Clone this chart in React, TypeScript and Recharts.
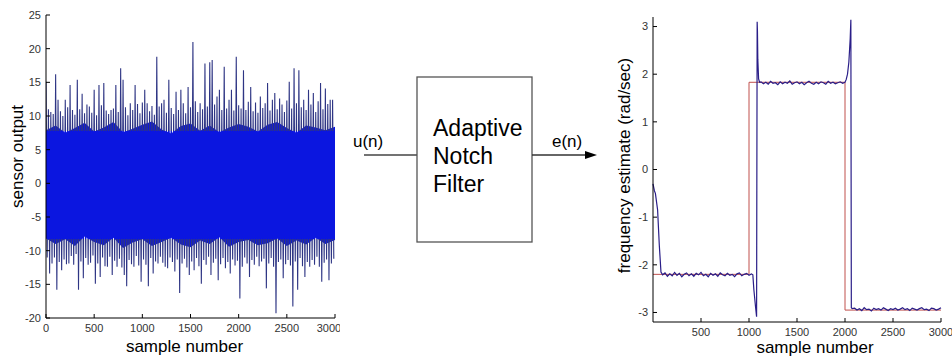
import { Area, ComposedChart, Line, LineChart, XAxis, YAxis } from "recharts";

// ---- left panel: raw sensor output ----
const sampleTicks = [0, 500, 1000, 1500, 2000, 2500, 3000];
const sensorTicks = [-20, -15, -10, -5, 0, 5, 10, 15, 20, 25];
const sensorDomain = [-20, 25];

// peak readings every 25 samples (upper swing, then lower swing half a step later)
const SPIKE_STEP = 25;
const spikeHigh = [
  15.1, 11.0, 10.6, 10.3, 16.2, 12.4, 10.7, 10.0, 12.4, 11.3,
  14.6, 10.9, 10.2, 15.4, 11.0, 13.3, 10.4, 11.7, 11.4, 10.5,
  13.9, 10.1, 14.6, 11.6, 14.9, 10.8, 10.3, 10.9, 11.1, 14.6,
  10.6, 17.1, 15.4, 11.3, 10.1, 11.9, 10.9, 14.6, 11.8, 10.4,
  12.0, 13.9, 11.9, 10.7, 11.5, 10.2, 18.8, 11.4, 11.9, 12.4,
  10.5, 15.4, 11.2, 10.3, 13.6, 10.9, 13.9, 11.9, 10.4, 14.3,
  11.3, 21.0, 12.2, 10.6, 11.9, 11.0, 17.8, 11.4, 18.0, 18.3,
  11.7, 12.9, 13.9, 10.9, 17.3, 11.1, 12.4, 13.9, 10.8, 18.8,
  11.6, 11.1, 16.8, 10.9, 12.1, 14.3, 10.7, 12.0, 10.5, 12.9,
  11.2, 11.9, 14.9, 10.8, 12.4, 13.4, 11.0, 12.6, 11.7, 10.6,
  12.3, 15.1, 11.1, 17.1, 11.9, 16.8, 11.3, 12.4, 10.9, 13.9,
  11.7, 13.4, 10.6, 12.2, 14.9, 11.0, 14.1, 11.8, 12.4, 12.4,
];
const spikeLow = [
  -11.0, -13.4, -11.9, -11.0, -15.8, -11.7, -12.9, -11.3, -12.0, -11.9,
  -10.8, -12.1, -10.5, -15.8, -11.6, -14.1, -11.1, -12.1, -11.8, -10.7,
  -14.9, -11.9, -13.9, -11.0, -12.3, -12.4, -10.9, -13.6, -11.5, -12.4,
  -11.2, -12.5, -13.6, -15.3, -11.4, -12.0, -12.4, -10.8, -12.2, -14.6,
  -11.3, -12.1, -15.3, -11.1, -13.4, -11.6, -11.9, -10.9, -11.8, -12.4,
  -12.6, -11.0, -11.7, -13.1, -11.3, -16.3, -11.9, -11.2, -12.5, -13.6,
  -11.6, -12.9, -11.1, -12.3, -14.9, -11.4, -12.1, -10.9, -13.6, -11.8,
  -11.2, -14.4, -12.0, -11.1, -12.6, -11.7, -13.4, -11.3, -12.2, -11.5,
  -17.1, -12.4, -11.0, -11.9, -13.9, -11.4, -12.1, -10.9, -12.3, -11.6,
  -11.2, -15.6, -11.9, -11.1, -12.4, -19.3, -11.7, -11.3, -14.1, -12.0,
  -11.4, -12.2, -18.3, -11.6, -15.8, -11.1, -12.3, -13.9, -11.7, -12.4,
  -11.4, -12.1, -10.9, -12.4, -14.6, -11.8, -11.3, -14.4, -11.9, -11.2,
];

// edges of the solid core of the trace, every 100 samples
const BAND_STEP = 100;
const bandHigh = [
  7.9, 8.6, 7.5, 8.2, 9.0, 7.7, 8.3, 9.1, 7.6, 8.1, 8.7, 9.2, 8.0, 7.4, 8.5, 8.9,
  7.8, 8.6, 7.6, 8.3, 8.8, 8.4, 7.7, 8.7, 9.1, 8.2, 7.5, 8.6, 8.3, 7.9, 8.4,
];
const bandLow = [
  -8.2, -9.0, -8.3, -9.3, -7.9, -8.7, -9.2, -8.1, -9.6, -8.8, -8.3, -9.3, -8.7, -8.1, -9.1, -9.5,
  -8.5, -9.0, -8.0, -9.4, -8.7, -8.4, -9.2, -8.9, -8.2, -9.3, -8.5, -9.1, -8.1, -9.0, -8.4,
];
// level inside which the overlapping trace reads as solid blue
const solidTop = 7.8;
const solidBottom = -8.2;

// ---- right panel: frequency tracking ----
const freqSampleTicks = [500, 1000, 1500, 2000, 2500, 3000];
const freqTicks = [-3, -2, -1, 0, 1, 2, 3];

const trueSamples = [0, 1000, 1000, 2000, 2000, 3000];
const trueFreq = [-2.2, -2.2, 1.83, 1.83, -2.95, -2.95];

const HOLD_STEP = 25;
const estStartup: [number, number][] = [
  [0, -0.3], [15, -0.45], [25, -0.5], [48, -0.85], [66, -1.6], [83, -2.15], [100, -2.21],
];
const holdOneStart = 125;
const holdOne = [
  -2.17, -2.24, -2.19, -2.23, -2.16, -2.22, -2.18, -2.25, -2.2, -2.17,
  -2.23, -2.19, -2.24, -2.18, -2.21, -2.16, -2.23, -2.2, -2.25, -2.18,
  -2.22, -2.19, -2.24, -2.17, -2.21, -2.23, -2.18, -2.22, -2.2, -2.25,
  -2.19, -2.17, -2.23, -2.2, -2.18, -2.22, -2.19,
];
const estStepUp: [number, number][] = [
  [1040, -2.21], [1051, -2.53], [1068, -2.88], [1079, -3.09], [1085, 3.1],
  [1088, 2.9], [1092, 2.3], [1100, 1.9], [1110, 1.83],
];
const holdTwoStart = 1125;
const holdTwo = [
  1.84, 1.8, 1.83, 1.79, 1.85, 1.81, 1.82, 1.78, 1.84, 1.8,
  1.83, 1.81, 1.86, 1.79, 1.82, 1.84, 1.8, 1.83, 1.78, 1.82,
  1.85, 1.81, 1.79, 1.83, 1.8, 1.84, 1.82, 1.79, 1.85, 1.81,
  1.83, 1.8, 1.82, 1.84, 1.81, 1.83,
];
const estStepDown: [number, number][] = [
  [2013, 1.89], [2026, 2.0], [2040, 2.25], [2054, 2.74], [2061, 3.14], [2066, -2.9], [2075, -2.92],
];
const holdThreeStart = 2100;
const holdThree = [
  -2.91, -2.95, -2.92, -2.96, -2.9, -2.94, -2.93, -2.97, -2.91, -2.94,
  -2.92, -2.95, -2.9, -2.93, -2.96, -2.92, -2.94, -2.91, -2.95, -2.93,
  -2.9, -2.94, -2.92, -2.96, -2.91, -2.93, -2.95, -2.92, -2.9, -2.94,
  -2.93, -2.96, -2.91, -2.92, -2.95, -2.93, -2.9,
];

const spikeTrace = spikeHigh.flatMap((hi, i) => [
  { x: i * SPIKE_STEP, y: hi },
  { x: i * SPIKE_STEP + SPIKE_STEP / 2, y: spikeLow[i] },
]);
const bandTrace = bandHigh.map((hi, i) => ({ x: i * BAND_STEP, band: [bandLow[i], hi] }));

const toPoints = (pairs: [number, number][]) => pairs.map(([x, y]) => ({ x, y }));
const holdPoints = (start: number, vals: number[]) =>
  vals.map((y, i) => ({ x: start + i * HOLD_STEP, y }));

const trueTrace = trueSamples.map((x, i) => ({ x, y: trueFreq[i] }));
const estimateTrace = [
  ...toPoints(estStartup),
  ...holdPoints(holdOneStart, holdOne),
  ...toPoints(estStepUp),
  ...holdPoints(holdTwoStart, holdTwo),
  ...toPoints(estStepDown),
  ...holdPoints(holdThreeStart, holdThree),
];

// gradient stops for the spike trace, in the trace's own bounding box
const spikeMax = Math.max(...spikeHigh);
const spikeMin = Math.min(...spikeLow);
const stopAt = (v: number) => (spikeMax - v) / (spikeMax - spikeMin);

const NAVY = "#2e3584";
const BLUE = "#0b16e0";

const tickStyle = { fill: "#333", fontSize: 11 };
const titleStyle = { textAnchor: "middle" as const, fontSize: 17, fill: "#000" };

function BlockDiagram() {
  return (
    <svg width={260} height={360} style={{ position: "absolute", left: 340, top: 0 }}>
      <g transform="translate(-340,0)">
        <line x1={364} y1={155} x2={417} y2={155} stroke="#444" strokeWidth={1.3} />
        <rect x={417} y={77} width={115} height={165} fill="none" stroke="#555" strokeWidth={1.3} />
        <line x1={532} y1={155} x2={587} y2={155} stroke="#333" strokeWidth={1.3} />
        <polygon points="585,151 597,155 585,159" fill="#000" />
        <text x={353} y={147} fontSize={17}>u(n)</text>
        <text x={552} y={147} fontSize={17}>e(n)</text>
        <text x={433} y={136} fontSize={23}>Adaptive</text>
        <text x={433} y={164} fontSize={23}>Notch</text>
        <text x={433} y={192} fontSize={23}>Filter</text>
      </g>
    </svg>
  );
}

export default function App() {
  return (
    <div
      style={{
        position: "absolute",
        left: 0,
        top: 0,
        width: 952,
        height: 360,
        background: "#fff",
        fontFamily: "Arial, 'Liberation Sans', sans-serif",
      }}
    >
      <div style={{ position: "absolute", left: 0, top: 0 }}>
        <ComposedChart width={340} height={360} margin={{ top: 15, right: 5, bottom: 0, left: 0 }}>
          <defs>
            <linearGradient id="spikeFill" x1="0" y1="0" x2="0" y2="1">
              <stop offset={0} stopColor={NAVY} />
              <stop offset={stopAt(solidTop)} stopColor={NAVY} />
              <stop offset={stopAt(solidTop)} stopColor={BLUE} />
              <stop offset={stopAt(solidBottom)} stopColor={BLUE} />
              <stop offset={stopAt(solidBottom)} stopColor={NAVY} />
              <stop offset={1} stopColor={NAVY} />
            </linearGradient>
          </defs>
          <XAxis
            xAxisId="b"
            type="number"
            dataKey="x"
            domain={[0, 3000]}
            ticks={sampleTicks}
            allowDataOverflow
            height={42}
            tickSize={-4}
            tickMargin={10}
            stroke="#000"
            tick={tickStyle}
            label={{ value: "sample number", position: "insideBottom", offset: 8, dx: -6, style: titleStyle }}
          />
          <XAxis
            xAxisId="t"
            orientation="top"
            type="number"
            domain={[0, 3000]}
            ticks={sampleTicks}
            height={0}
            tickSize={-4}
            stroke="#000"
            tickFormatter={() => ""}
          />
          <YAxis
            yAxisId="l"
            type="number"
            domain={sensorDomain}
            ticks={sensorTicks}
            allowDataOverflow
            width={46}
            tickSize={-4}
            tickMargin={9}
            stroke="#000"
            tick={tickStyle}
            label={{ value: "sensor output", angle: -90, position: "insideLeft", offset: 17, dy: -10, style: titleStyle }}
          />
          <YAxis
            yAxisId="r"
            orientation="right"
            type="number"
            domain={sensorDomain}
            ticks={sensorTicks}
            width={0}
            tickSize={-4}
            stroke="#000"
            tickFormatter={() => ""}
          />
          <Area
            xAxisId="b"
            yAxisId="l"
            data={bandTrace}
            dataKey="band"
            type="linear"
            stroke="none"
            fill={BLUE}
            fillOpacity={1}
            isAnimationActive={false}
          />
          <Line
            xAxisId="b"
            yAxisId="l"
            data={spikeTrace}
            dataKey="y"
            type="linear"
            stroke="url(#spikeFill)"
            strokeWidth={1.1}
            dot={false}
            isAnimationActive={false}
          />
        </ComposedChart>
      </div>

      <BlockDiagram />

      <div style={{ position: "absolute", left: 590, top: 0 }}>
        <LineChart width={362} height={360} margin={{ top: 17, right: 11, bottom: 0, left: 0 }}>
          <XAxis
            type="number"
            dataKey="x"
            domain={[0, 3000]}
            ticks={freqSampleTicks}
            height={38}
            tickSize={-4}
            tickMargin={10}
            stroke="#000"
            tick={tickStyle}
            label={{ value: "sample number", position: "insideBottom", offset: 7, dx: 18, style: titleStyle }}
          />
          <YAxis
            type="number"
            domain={[-3.2, 3.2]}
            ticks={freqTicks}
            allowDataOverflow
            width={63}
            tickSize={-4}
            tickMargin={9}
            stroke="#000"
            tick={tickStyle}
            label={{
              value: "frequency estimate (rad/sec)",
              angle: -90,
              position: "insideLeft",
              offset: 34,
              dy: -4,
              style: titleStyle,
            }}
          />
          <Line
            data={trueTrace}
            dataKey="y"
            type="linear"
            stroke="#c0504d"
            strokeWidth={1}
            dot={false}
            isAnimationActive={false}
          />
          <Line
            data={estimateTrace}
            dataKey="y"
            type="linear"
            stroke="#2a1e88"
            strokeWidth={1.2}
            dot={false}
            isAnimationActive={false}
          />
        </LineChart>
      </div>
    </div>
  );
}
